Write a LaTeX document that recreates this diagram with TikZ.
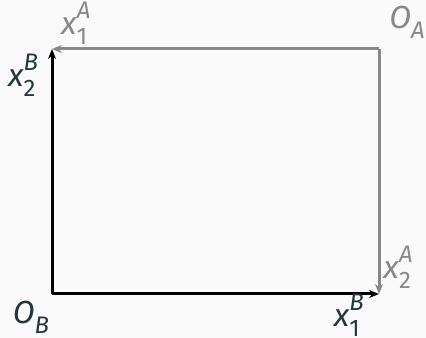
\documentclass[tikz,border=0pt]{standalone}
\usepackage{fontspec}
\setmainfont{Fira Sans}
\usetikzlibrary{arrows.meta}
\definecolor{mtext}{HTML}{23373B}
\definecolor{mgray}{HTML}{888888}
\definecolor{mbg}{HTML}{FAFAFA}
\newcommand{\scr}{\fontsize{24}{26}\selectfont}
\newcommand{\lblxs}[3]{\textit{#1}\rlap{\raisebox{0.95ex}{\scr\textit{#3}}}\raisebox{-0.6ex}{\scr #2}\phantom{\scr\textit{#3}}}
\newcommand{\lblo}[2]{\textit{#1}\raisebox{-0.6ex}{\scr\textit{#2}}}
\begin{document}
\begin{tikzpicture}[x=1bp,y=1bp,
  lbl/.style={font=\fontsize{32}{36}\selectfont, inner sep=0pt},
  axB/.style={line width=3bp, draw=black, -{Stealth[length=10bp,width=8bp]}},
  axA/.style={line width=3bp, draw=mgray, -{Stealth[length=10bp,width=8bp]}}]
\fill[mbg] (0,0) rectangle (426,338);
\useasboundingbox (0,0) rectangle (426,338);
\coordinate (OB) at (52,44);
\coordinate (OA) at (379,289);
\coordinate (TL) at (52,289);
\coordinate (BR) at (379,44);
\draw[axA] (OA) -- (TL);
\draw[axA] (OA) -- (BR);
\draw[axB] (OB) -- (TL);
\draw[axB] (OB) -- (BR);
\node[lbl, text=mgray] (x1A) at (81,315) {\lblxs{x}{1}{A}};
\node[lbl, text=mgray] (OAl) at (407,316) {\lblo{O}{A}};
\node[lbl, text=mtext] (x2B) at (29,263) {\lblxs{x}{2}{B}};
\node[lbl, text=mtext] (OBl) at (31,21) {\lblo{O}{B}};
\node[lbl, text=mtext] (x1B) at (354,23) {\lblxs{x}{1}{B}};
\node[lbl, text=mgray] (x2A) at (404,71) {\lblxs{x}{2}{A}};
\end{tikzpicture}
\end{document}
